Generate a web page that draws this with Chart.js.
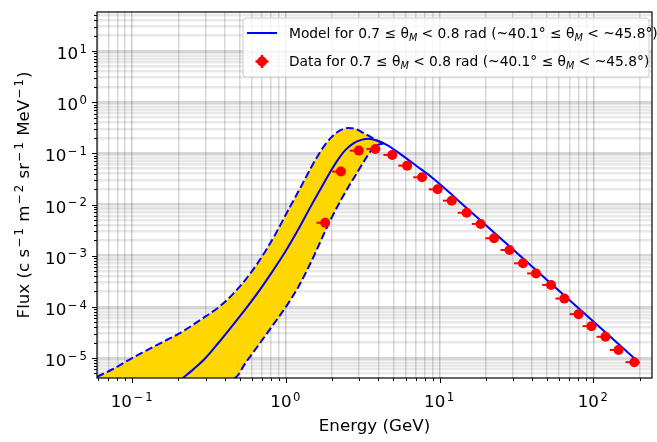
<!DOCTYPE html>
<html>
<head>
<meta charset="utf-8">
<script src="https://cdn.jsdelivr.net/npm/chart.js@4.4.0/dist/chart.umd.min.js"></script>
<style>
  html, body { margin: 0; padding: 0; background: #fff; }
  #wrap { width: 657px; height: 442px; }
</style>
</head>
<body>
<div id="wrap"><canvas id="chart" width="657" height="442"></canvas></div>
<script>
// axis limits (log-log)
var X_MIN = 0.059, X_MAX = 241;
var Y_MIN = 4.07e-6, Y_MAX = 57.8;

// decade tick labels
var xMajor = [0.1, 1, 10, 100];
var yMajor = [1e-5, 1e-4, 1e-3, 1e-2, 1e-1, 1, 10];

// measured flux, with lower bin edge for the x error bar
var dataEnergy = [1.80, 2.28, 2.98, 3.82, 4.92, 6.15, 7.69, 9.70, 12.0, 15.0, 18.5,
                  22.6, 28.5, 34.9, 42.4, 53.1, 64.8, 80.2, 97.3, 120, 146, 185];
var dataEnergyLow = [1.58, 2.00, 2.61, 3.34, 4.31, 5.38, 6.73, 8.49, 10.5, 13.1, 16.2,
                     19.8, 24.9, 30.5, 37.1, 46.5, 56.7, 70.2, 85.1, 105, 128, 162];
var dataFlux = [4.4e-3, 0.044, 0.113, 0.122, 0.093, 0.0575, 0.034, 0.0198, 0.0119, 6.9e-3, 4.17e-3,
                2.19e-3, 1.29e-3, 7.1e-4, 4.5e-4, 2.68e-4, 1.45e-4, 7.2e-5, 4.2e-5, 2.6e-5, 1.44e-5, 8.3e-6];

// model, central curve
var modelEnergy = [0.21, 0.25, 0.30, 0.36, 0.44, 0.56, 0.68, 0.82, 1.0, 1.2, 1.5, 1.75, 2.0, 2.2,
                   2.45, 2.75, 3.1, 3.45, 3.9, 4.5, 5.4, 7.0, 9.0, 13.1, 50, 200];
var modelFlux = [3.9e-6, 6.0e-6, 1.0e-5, 1.9e-5, 4.0e-5, 1.0e-4, 2.2e-4, 5.0e-4, 1.25e-3, 3.2e-3, 0.011,
                 0.025, 0.05, 0.078, 0.118, 0.157, 0.183, 0.192, 0.178, 0.148, 0.103, 0.058, 0.033,
                 0.0123, 3.35e-4, 8.0e-6];

// model band, upper edge
var upperEnergy = [0.059, 0.075, 0.1, 0.13, 0.17, 0.2, 0.25, 0.3, 0.368, 0.45, 0.55, 0.65, 0.75, 0.87,
                   1.0, 1.15, 1.3, 1.45, 1.6, 1.8, 2.0, 2.25, 2.55, 2.85, 3.2, 3.6, 3.9, 4.3];
var upperFlux = [4.3e-6, 6.1e-6, 1.0e-5, 1.52e-5, 2.3e-5, 2.95e-5, 4.5e-5, 6.5e-5, 1.0e-4, 1.75e-4, 3.5e-4,
                 6.9e-4, 1.35e-3, 2.9e-3, 6.4e-3, 0.0138, 0.0275, 0.051, 0.086, 0.148, 0.213, 0.28,
                 0.314, 0.298, 0.25, 0.205, 0.179, 0.157];

// model band, lower edge (first point: band is cut by the axis floor there)
var lowerEnergy = [0.059, 0.46, 0.55, 0.65, 0.8, 1.0, 1.2, 1.5, 1.8, 2.0, 2.3, 2.55, 2.9, 3.26,
                   3.6, 3.9, 4.3];
var lowerFlux = [4.07e-6, 4.07e-6, 8.3e-6, 1.64e-5, 3.9e-5, 1.0e-4, 2.4e-4, 9.0e-4, 3.0e-3, 5.8e-3,
                 0.0128, 0.022, 0.0415, 0.074, 0.115, 0.143, 0.156];

// legend text, odd pieces are subscripts
var modelLabel = ['Model for 0.7 ≤ θ', 'M', ' < 0.8 rad (~40.1° ≤ θ', 'M', ' < ~45.8°)'];
var dataLabel = ['Data for 0.7 ≤ θ', 'M', ' < 0.8 rad (~40.1° ≤ θ', 'M', ' < ~45.8°)'];
var xTitle = 'Energy (GeV)';
var yTitle = [{t: 'Flux (c s'}, {t: '−1', s: 'sup'}, {t: ' m'}, {t: '−2', s: 'sup'}, {t: ' sr'},
              {t: '−1', s: 'sup'}, {t: ' MeV'}, {t: '−1', s: 'sup'}, {t: ')'}];

var FONT = 'DejaVu Sans';
var AXIS_SIZE = 16.7, LEGEND_SIZE = 13.8;
Chart.defaults.font.family = FONT;

function zip(xs, ys) {
  return xs.map(function (x, i) { return {x: x, y: ys[i]}; });
}
function isMajor(v, list) {
  return list.some(function (m) { return Math.abs(v / m - 1) < 1e-6; });
}
function powParts(v) {
  var e = Math.round(Math.log10(v));
  return [{t: '10'}, {t: (e < 0 ? '−' : '') + Math.abs(e), s: 'sup'}];
}
function logTicks(min, max) {
  var out = [];
  for (var e = Math.floor(Math.log10(min)); e <= Math.ceil(Math.log10(max)); e++) {
    for (var k = 1; k < 10; k++) {
      var v = k * Math.pow(10, e);
      if (v >= min && v <= max) out.push({value: v});
    }
  }
  return out;
}
function legendParts(arr) {
  return arr.map(function (t, i) { return i % 2 ? {t: t, s: 'sub', i: true} : {t: t}; });
}

// small mathtext-like renderer: sup/sub pieces at 70% size
// returns the width; draws only when draw is true
function richText(ctx, parts, x, y, size, draw) {
  var x0 = x;
  parts.forEach(function (p) {
    var f = p.s ? size * 0.7 : size;
    ctx.font = (p.i ? 'italic ' : '') + f.toFixed(1) + 'px ' + FONT;
    var dy = p.s === 'sup' ? -0.38 * size : p.s === 'sub' ? 0.22 * size : 0;
    var pieces = [p.t];
    if (p.s === 'sup') {
      x += 1.5;
      if (p.t.charAt(0) === '−') pieces = ['−', p.t.slice(1)];
    }
    pieces.forEach(function (t, k) {
      if (draw) ctx.fillText(t, x, y + dy);
      x += ctx.measureText(t).width + (k < pieces.length - 1 ? 2 : 0);
    });
    if (p.s === 'sup') x += 1;
  });
  return x - x0;
}

var errorBars = {
  id: 'errorBars',
  beforeDatasetDraw: function (chart, args) {
    if (args.index !== 3) return;
    var ctx = chart.ctx, xs = chart.scales.x, ys = chart.scales.y;
    ctx.save();
    ctx.strokeStyle = 'red';
    ctx.lineWidth = 2;
    dataEnergy.forEach(function (e, i) {
      var py = ys.getPixelForValue(dataFlux[i]);
      ctx.beginPath();
      ctx.moveTo(xs.getPixelForValue(dataEnergyLow[i]), py);
      ctx.lineTo(xs.getPixelForValue(e), py);
      ctx.stroke();
    });
    ctx.restore();
  }
};

var axesDecor = {
  id: 'axesDecor',
  afterDraw: function (chart) {
    var ctx = chart.ctx, a = chart.chartArea, xs = chart.scales.x, ys = chart.scales.y;
    ctx.save();
    // tick marks
    ctx.strokeStyle = '#000';
    ctx.lineWidth = 1;
    xs.ticks.forEach(function (t) {
      var px = Math.round(xs.getPixelForValue(t.value)) + 0.5;
      var len = isMajor(t.value, xMajor) ? 5 : 3;
      ctx.beginPath(); ctx.moveTo(px, a.bottom); ctx.lineTo(px, a.bottom + len); ctx.stroke();
    });
    ys.ticks.forEach(function (t) {
      var py = Math.round(ys.getPixelForValue(t.value)) + 0.5;
      var len = isMajor(t.value, yMajor) ? 5 : 3;
      ctx.beginPath(); ctx.moveTo(a.left, py); ctx.lineTo(a.left - len, py); ctx.stroke();
    });
    // frame
    ctx.lineWidth = 1.2;
    ctx.strokeRect(a.left, a.top, a.right - a.left, a.bottom - a.top);

    // tick labels
    ctx.fillStyle = '#000';
    ctx.textBaseline = 'alphabetic';
    ctx.textAlign = 'left';
    xMajor.forEach(function (v) {
      var parts = powParts(v), w = richText(ctx, parts, 0, 0, AXIS_SIZE, false);
      richText(ctx, parts, xs.getPixelForValue(v) - w / 2, a.bottom + 29, AXIS_SIZE, true);
    });
    yMajor.forEach(function (v) {
      var parts = powParts(v), w = richText(ctx, parts, 0, 0, AXIS_SIZE, false);
      richText(ctx, parts, a.left - 9 - w, ys.getPixelForValue(v) + 8, AXIS_SIZE, true);
    });

    // axis titles
    ctx.font = AXIS_SIZE + 'px ' + FONT;
    ctx.textAlign = 'center';
    ctx.fillText(xTitle, (a.left + a.right) / 2, 431);
    ctx.textAlign = 'left';
    var tw = richText(ctx, yTitle, 0, 0, AXIS_SIZE, false);
    ctx.save();
    ctx.translate(29, (a.top + a.bottom) / 2 + tw / 2);
    ctx.rotate(-Math.PI / 2);
    richText(ctx, yTitle, 0, 0, AXIS_SIZE, true);
    ctx.restore();

    // legend
    var lx = 243, ly = 18, lw = a.right - 3 - lx, lh = 59, r = 3;
    ctx.beginPath();
    ctx.moveTo(lx + r, ly);
    ctx.arcTo(lx + lw, ly, lx + lw, ly + lh, r);
    ctx.arcTo(lx + lw, ly + lh, lx, ly + lh, r);
    ctx.arcTo(lx, ly + lh, lx, ly, r);
    ctx.arcTo(lx, ly, lx + lw, ly, r);
    ctx.closePath();
    ctx.fillStyle = 'rgba(255,255,255,0.8)';
    ctx.fill();
    ctx.strokeStyle = '#cccccc';
    ctx.lineWidth = 1;
    ctx.stroke();

    ctx.strokeStyle = 'blue';
    ctx.lineWidth = 2;
    ctx.beginPath(); ctx.moveTo(247, 33); ctx.lineTo(277, 33); ctx.stroke();

    ctx.strokeStyle = 'red';
    ctx.lineWidth = 2.5;
    ctx.beginPath(); ctx.moveTo(255.5, 61.5); ctx.lineTo(268.5, 61.5); ctx.stroke();
    ctx.beginPath(); ctx.moveTo(262, 55); ctx.lineTo(262, 68); ctx.stroke();
    ctx.fillStyle = 'red';
    ctx.beginPath(); ctx.arc(262, 61.5, 5, 0, Math.PI * 2); ctx.fill();

    ctx.fillStyle = '#000';
    richText(ctx, legendParts(modelLabel), 289, 37.5, LEGEND_SIZE, true);
    richText(ctx, legendParts(dataLabel), 289, 65.5, LEGEND_SIZE, true);
    ctx.restore();
  }
};

var dashed = [7.7, 3.3];

new Chart(document.getElementById('chart'), {
  type: 'scatter',
  data: {
    datasets: [
      {
        data: zip(upperEnergy, upperFlux),
        showLine: true, pointRadius: 0, borderColor: 'blue', borderWidth: 2, borderDash: dashed,
        cubicInterpolationMode: 'monotone', clip: 0,
        fill: 1, backgroundColor: '#FFD700', order: 4
      },
      {
        data: zip(lowerEnergy, lowerFlux),
        showLine: true, pointRadius: 0, borderColor: 'blue', borderWidth: 2, borderDash: dashed,
        cubicInterpolationMode: 'monotone', clip: 0, order: 3,
        segment: { borderColor: function (c) { return c.p0DataIndex === 0 ? 'rgba(0,0,0,0)' : undefined; } }
      },
      {
        data: zip(modelEnergy, modelFlux),
        showLine: true, pointRadius: 0, borderColor: 'blue', borderWidth: 2,
        cubicInterpolationMode: 'monotone', clip: 0, order: 2
      },
      {
        data: zip(dataEnergy, dataFlux),
        pointRadius: 5, pointBackgroundColor: 'red', pointBorderWidth: 0,
        borderColor: 'red', order: 1
      }
    ]
  },
  options: {
    responsive: false,
    animation: false,
    events: [],
    layout: { padding: { top: 12, right: 1, bottom: 0, left: 0 } },
    plugins: {
      legend: { display: false },
      tooltip: { enabled: false },
      filler: { drawTime: 'beforeDatasetsDraw' }
    },
    scales: {
      x: {
        type: 'logarithmic', min: X_MIN, max: X_MAX, bounds: 'data',
        afterFit: function (s) { s.height = 64; },
        afterBuildTicks: function (s) { s.ticks = logTicks(X_MIN, X_MAX); },
        border: { display: false },
        grid: {
          drawTicks: false, lineWidth: 1.5,
          color: function (c) {
            if (!c.tick) return 'rgba(0,0,0,0)';
            return isMajor(c.tick.value, xMajor) ? 'rgba(0,0,0,0.2)' : 'rgba(0,0,0,0.15)';
          }
        },
        ticks: { display: false, autoSkip: false }
      },
      y: {
        type: 'logarithmic', min: Y_MIN, max: Y_MAX, bounds: 'data',
        afterFit: function (s) { s.width = 97; },
        afterBuildTicks: function (s) { s.ticks = logTicks(Y_MIN, Y_MAX); },
        border: { display: false },
        grid: {
          drawTicks: false, lineWidth: 2.5,
          color: function (c) {
            if (!c.tick) return 'rgba(0,0,0,0)';
            return isMajor(c.tick.value, yMajor) ? 'rgba(0,0,0,0.16)' : 'rgba(0,0,0,0.09)';
          }
        },
        ticks: { display: false, autoSkip: false }
      }
    }
  },
  plugins: [errorBars, axesDecor]
});
</script>
</body>
</html>
